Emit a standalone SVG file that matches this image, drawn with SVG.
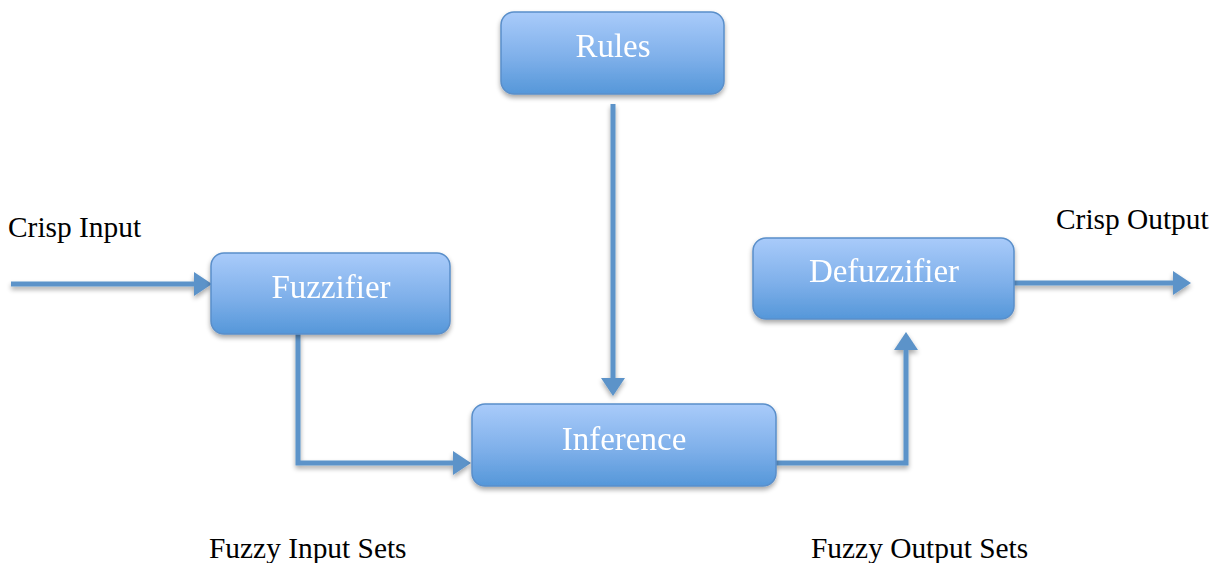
<svg xmlns="http://www.w3.org/2000/svg" width="1214" height="563" viewBox="0 0 1214 563">
  <defs>
    <linearGradient id="boxFill" x1="0" y1="0" x2="0" y2="1">
      <stop offset="0" stop-color="#a9cbfa"/>
      <stop offset="0.55" stop-color="#7fb0ea"/>
      <stop offset="1" stop-color="#5597d9"/>
    </linearGradient>
    <filter id="shadow" x="-10%" y="-10%" width="120%" height="140%">
      <feGaussianBlur in="SourceAlpha" stdDeviation="2.5"/>
      <feOffset dx="0" dy="3" result="b"/>
      <feComponentTransfer><feFuncA type="linear" slope="0.35"/></feComponentTransfer>
      <feMerge><feMergeNode/><feMergeNode in="SourceGraphic"/></feMerge>
    </filter>
    <marker id="head" markerUnits="userSpaceOnUse" markerWidth="20" markerHeight="24" refX="2" refY="12" orient="auto" viewBox="0 0 20 24">
      <path d="M0,0 L18,12 L0,24 Z" fill="#5b93c9"/>
    </marker>
  </defs>
  <style>
    .box { fill: url(#boxFill); stroke: #5a8fca; stroke-width: 1.5; }
    .btxt { font-family: "Liberation Serif", "DejaVu Serif", serif; font-size: 33px; fill: #ffffff; text-anchor: middle; }
    .lbl { font-family: "Liberation Serif", serif; font-size: 29.4px; fill: #000000; }
    .wire { fill: none; stroke: #5b93c9; stroke-width: 5; }
  </style>

  <rect width="1214" height="563" fill="#ffffff"/>

  <g id="connectors" filter="url(#shadow)">
    <path class="wire" d="M11,284 H196" marker-end="url(#head)"/>
    <path class="wire" d="M613,104 V380" marker-end="url(#head)"/>
    <path class="wire" d="M298,334 V463 H455" marker-end="url(#head)"/>
    <path class="wire" d="M776,463 H906 V348" marker-end="url(#head)"/>
    <path class="wire" d="M1014,283 H1175" marker-end="url(#head)"/>
  </g>

  <g id="rules" filter="url(#shadow)">
    <rect class="box" x="501" y="12" width="223" height="82" rx="13"/>
    <text class="btxt" x="613" y="57">Rules</text>
  </g>
  <g id="fuzzifier" filter="url(#shadow)">
    <rect class="box" x="211" y="253" width="239" height="81" rx="13"/>
    <text class="btxt" x="331" y="298">Fuzzifier</text>
  </g>
  <g id="inference" filter="url(#shadow)">
    <rect class="box" x="472" y="404" width="304" height="82" rx="13"/>
    <text class="btxt" x="624" y="450">Inference</text>
  </g>
  <g id="defuzzifier" filter="url(#shadow)">
    <rect class="box" x="753" y="238" width="261" height="81" rx="13"/>
    <text class="btxt" x="884" y="282">Defuzzifier</text>
  </g>

  <g id="labels">
    <text class="lbl" x="8" y="237">Crisp Input</text>
    <text class="lbl" x="1056" y="229">Crisp Output</text>
    <text class="lbl" x="209" y="558">Fuzzy Input Sets</text>
    <text class="lbl" x="811" y="558">Fuzzy Output Sets</text>
  </g>
</svg>
